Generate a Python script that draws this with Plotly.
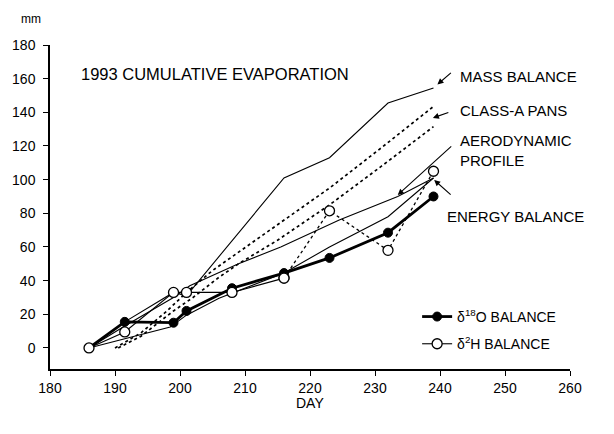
import plotly.graph_objects as go

# ---- data ----
o18_days = [186, 191.5, 199, 201, 208, 216, 223, 232, 239]
o18_vals = [0, 15.5, 15, 22, 35.5, 44.5, 53.5, 68.5, 90]

h2_days = [186, 191.5, 199, 201, 208, 216, 223, 232, 239]
h2_vals = [0, 9.5, 33, 33, 33, 41.5, 81.5, 58, 105]

mass_days = [186, 191.5, 199, 201, 216, 223, 232, 239]
mass_vals = [0, 15.5, 33, 31, 101, 113, 145.5, 154.5]

pan_hi_days = [190, 194, 198, 201, 205, 209, 215, 223, 231, 239]
pan_hi_vals = [0, 9, 22, 33, 46, 57, 73, 95, 119, 143.5]

pan_lo_days = [190.5, 194, 199, 202, 206, 209, 215, 223, 231, 239]
pan_lo_vals = [0, 7, 22, 30, 42, 50, 64, 85, 108, 131.5]

aero_days = [186, 191.5, 199, 201.5, 209, 215.5, 224.5, 233.5, 239]
aero_vals = [0, 13, 30, 37, 50, 60, 76, 90, 101]

energy_days = [186, 190.5, 194.5, 198.5, 201, 206, 216, 223, 232, 239]
energy_vals = [0, 4.5, 8.5, 12.5, 19.5, 29.5, 44.5, 60, 78, 101]

x_ticks = [180, 190, 200, 210, 220, 230, 240, 250, 260]
y_ticks = [0, 20, 40, 60, 80, 100, 120, 140, 160, 180]

FONT = "Liberation Sans, Arial, Helvetica, sans-serif"
BLACK = "#000000"

fig = go.Figure()

thin = dict(color=BLACK, width=1.1)

fig.add_trace(go.Scatter(x=pan_hi_days, y=pan_hi_vals, mode="lines",
                         line=dict(color=BLACK, width=1.7, dash="dot"),
                         showlegend=False, hoverinfo="skip"))
fig.add_trace(go.Scatter(x=pan_lo_days, y=pan_lo_vals, mode="lines",
                         line=dict(color=BLACK, width=1.7, dash="dot"),
                         showlegend=False, hoverinfo="skip"))
fig.add_trace(go.Scatter(x=mass_days, y=mass_vals, mode="lines", line=thin,
                         showlegend=False, hoverinfo="skip"))
fig.add_trace(go.Scatter(x=aero_days, y=aero_vals, mode="lines", line=thin,
                         showlegend=False, hoverinfo="skip"))
fig.add_trace(go.Scatter(x=energy_days, y=energy_vals, mode="lines", line=thin,
                         showlegend=False, hoverinfo="skip"))

# δ18O balance
fig.add_trace(go.Scatter(x=o18_days, y=o18_vals, mode="lines+markers",
                         name="δ<sup>18</sup>O BALANCE", legendgroup="a",
                         line=dict(color=BLACK, width=2.8),
                         marker=dict(symbol="circle", size=9, color=BLACK,
                                     line=dict(color=BLACK, width=1))))

# δ2H balance: dotted later part, solid early part
fig.add_trace(go.Scatter(x=h2_days[5:], y=h2_vals[5:], mode="lines+markers",
                         showlegend=False, hoverinfo="skip",
                         line=dict(color=BLACK, width=1.3, dash="dot"),
                         marker=dict(symbol="circle", size=10, color="white",
                                     line=dict(color=BLACK, width=1.3))))
fig.add_trace(go.Scatter(x=h2_days[:6], y=h2_vals[:6], mode="lines+markers",
                         name="δ<sup>2</sup>H BALANCE", legendgroup="b",
                         line=dict(color=BLACK, width=1.1),
                         marker=dict(symbol="circle", size=10, color="white",
                                     line=dict(color=BLACK, width=1.3))))

txt = dict(family=FONT, size=15, color=BLACK)

annotations = [
    dict(x=184.5, y=162.8, xref="x", yref="y", text="1993 CUMULATIVE EVAPORATION",
         showarrow=False, xanchor="left", yanchor="middle",
         font=dict(family=FONT, size=16.5, color=BLACK)),
    dict(x=242.8, y=161, xref="x", yref="y", text="MASS BALANCE",
         showarrow=False, xanchor="left", yanchor="middle", font=txt),
    dict(x=242.8, y=140.8, xref="x", yref="y", text="CLASS-A PANS",
         showarrow=False, xanchor="left", yanchor="middle", font=txt),
    dict(x=242.8, y=117.6, xref="x", yref="y", text="AERODYNAMIC<br>PROFILE",
         showarrow=False, xanchor="left", yanchor="middle", align="left", font=txt),
    dict(x=240.8, y=78.4, xref="x", yref="y", text="ENERGY BALANCE",
         showarrow=False, xanchor="left", yanchor="middle", font=txt),
    dict(x=-0.06, y=1.08, xref="paper", yref="paper", text="mm",
         showarrow=False, xanchor="left", yanchor="middle",
         font=dict(family=FONT, size=12, color=BLACK)),
    dict(x=0.5, y=-0.106, xref="paper", yref="paper", text="DAY",
         showarrow=False, xanchor="center", yanchor="middle",
         font=dict(family=FONT, size=14, color=BLACK)),
]

arrow = dict(showarrow=True, arrowhead=2, arrowsize=1.1, arrowwidth=1.1,
             arrowcolor=BLACK, text="", xref="x", yref="y")
annotations += [
    dict(x=239.6, y=156.5, ax=15, ay=-13, **arrow),
    dict(x=238.9, y=136.7, ax=17, ay=-6, **arrow),
    dict(x=233.5, y=90.9, ax=55, ay=-50, **arrow),
    dict(x=239.1, y=99.8, ax=18, ay=16, **arrow),
]

fig.update_layout(
    width=614, height=434,
    margin=dict(l=50, r=44, t=45, b=65),
    paper_bgcolor="white", plot_bgcolor="white",
    font=dict(family=FONT, size=14, color=BLACK),
    showlegend=True,
    legend=dict(x=0.706, y=0.21, xanchor="left", yanchor="top",
                bgcolor="rgba(0,0,0,0)", traceorder="grouped",
                tracegroupgap=6, itemwidth=30,
                font=dict(family=FONT, size=14, color=BLACK)),
    annotations=annotations,
    xaxis=dict(range=[180, 260], tickvals=x_ticks, showgrid=False, zeroline=False,
               showline=True, linecolor=BLACK, linewidth=1.5, ticks="outside",
               ticklen=5, tickwidth=1.3, tickcolor=BLACK,
               tickfont=dict(family=FONT, size=14, color=BLACK)),
    yaxis=dict(range=[-12.5, 180], tickvals=y_ticks, showgrid=False, zeroline=False,
               showline=True, linecolor=BLACK, linewidth=1.5, ticks="outside",
               ticklen=5, tickwidth=1.3, tickcolor=BLACK, ticklabelstandoff=5,
               tickfont=dict(family=FONT, size=14, color=BLACK)),
)

fig.write_html("out.html")
